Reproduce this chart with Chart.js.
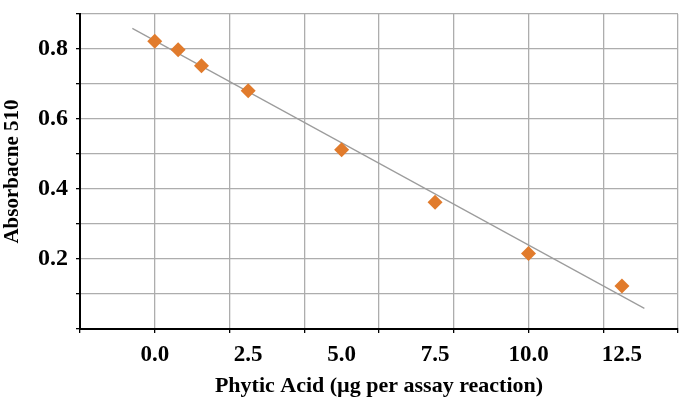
<!DOCTYPE html>
<html>
<head>
<meta charset="utf-8">
<script src="https://cdn.jsdelivr.net/npm/chart.js@4/dist/chart.umd.min.js"></script>
<style>
  html, body { margin: 0; padding: 0; background: #ffffff; }
  #wrap { width: 700px; height: 403px; position: relative; }
</style>
</head>
<body>
<div id="wrap"><canvas id="c" width="700" height="403"></canvas></div>
<script>
// ---- data ----
const phyticAcid = [0, 0.625, 1.25, 2.5, 5, 7.5, 10, 12.5];
const absorbance = [0.822, 0.798, 0.752, 0.681, 0.512, 0.362, 0.216, 0.123];
const trendX = [-0.6, 13.1];
const trendY = [0.859, 0.059];

const xGridValues = [-2, 0, 2, 4, 6, 8, 10, 12, 14];
const xLabelValues = [0, 2.5, 5, 7.5, 10, 12.5];
const xTickLabels = ['0.0', '2.5', '5.0', '7.5', '10.0', '12.5'];

const yGridValues = [0, 0.1, 0.2, 0.3, 0.4, 0.5, 0.6, 0.7, 0.8, 0.9];
const yLabelValues = [0.2, 0.4, 0.6, 0.8];
const yTickLabels = ['0.2', '0.4', '0.6', '0.8'];

const xTitle = 'Phytic Acid (\u00B5g per assay reaction)';
const yTitle = 'Absorbacne 510';

// ---- chart ----
const FONT = 'Liberation Serif, Times New Roman, serif';
const GRID = '#adadad';
const near = (a, b) => Math.abs(a - b) < 1e-9;
const inList = (list, v) => list.some(x => near(x, v));

const pointData = phyticAcid.map((x, i) => ({ x: x, y: absorbance[i] }));
const trendData = trendX.map((x, i) => ({ x: x, y: trendY[i] }));

const allX = Array.from(new Set(xGridValues.concat(xLabelValues))).sort((a, b) => a - b);

new Chart(document.getElementById('c'), {
  type: 'scatter',
  data: {
    datasets: [
      {
        label: 'Absorbance',
        data: pointData,
        pointStyle: 'rectRot',
        pointRadius: 7.5,
        pointBackgroundColor: '#E17B2C',
        pointBorderColor: '#E17B2C',
        pointBorderWidth: 0,
        showLine: false,
        order: 1
      },
      {
        label: 'Trend',
        data: trendData,
        showLine: true,
        borderColor: '#9c9c9c',
        borderWidth: 1.2,
        pointRadius: 0,
        fill: false,
        order: 2
      }
    ]
  },
  options: {
    responsive: false,
    animation: false,
    devicePixelRatio: 1,
    layout: { padding: { left: 0, right: 22, top: 14, bottom: 3 } },
    plugins: {
      legend: { display: false },
      tooltip: { enabled: false }
    },
    scales: {
      x: {
        type: 'linear',
        min: -2,
        max: 14,
        afterBuildTicks: (scale) => { scale.ticks = allX.map(v => ({ value: v })); },
        afterFit: (scale) => { scale.height = 71; scale.paddingLeft = 0; scale.paddingRight = 0; },
        grid: {
          color: (ctx) => (ctx.tick && inList(xGridValues, ctx.tick.value)) ? GRID : 'rgba(0,0,0,0)',
          tickColor: (ctx) => (ctx.tick && inList(xGridValues, ctx.tick.value)) ? '#000' : 'rgba(0,0,0,0)',
          lineWidth: 1.3,
          tickLength: 4,
          drawTicks: true
        },
        border: { color: '#000', width: 2 },
        ticks: {
          autoSkip: false,
          maxRotation: 0,
          padding: 8,
          color: '#000',
          font: { family: FONT, size: 23, weight: 'bold' },
          callback: (value) => {
            const i = xLabelValues.findIndex(v => near(v, value));
            return i >= 0 ? xTickLabels[i] : '';
          }
        },
        title: {
          display: true,
          text: xTitle,
          color: '#000',
          padding: 0,
          font: { family: FONT, size: 22, weight: 'bold' }
        }
      },
      y: {
        type: 'linear',
        min: 0,
        max: 0.9,
        afterBuildTicks: (scale) => { scale.ticks = yGridValues.map(v => ({ value: v })); },
        afterFit: (scale) => { scale.width = 80; scale.paddingTop = 0; scale.paddingBottom = 0; },
        grid: {
          color: GRID,
          tickColor: '#000',
          lineWidth: 1.3,
          tickLength: 4
        },
        border: { color: '#000', width: 2 },
        ticks: {
          autoSkip: false,
          padding: 8,
          color: '#000',
          font: { family: FONT, size: 24, weight: 'bold' },
          callback: (value) => {
            const i = yLabelValues.findIndex(v => near(v, value));
            return i >= 0 ? yTickLabels[i] : '';
          }
        },
        title: {
          display: true,
          text: yTitle,
          color: '#000',
          padding: 0,
          font: { family: FONT, size: 21, weight: 'bold' }
        }
      }
    }
  }
});
</script>
</body>
</html>
